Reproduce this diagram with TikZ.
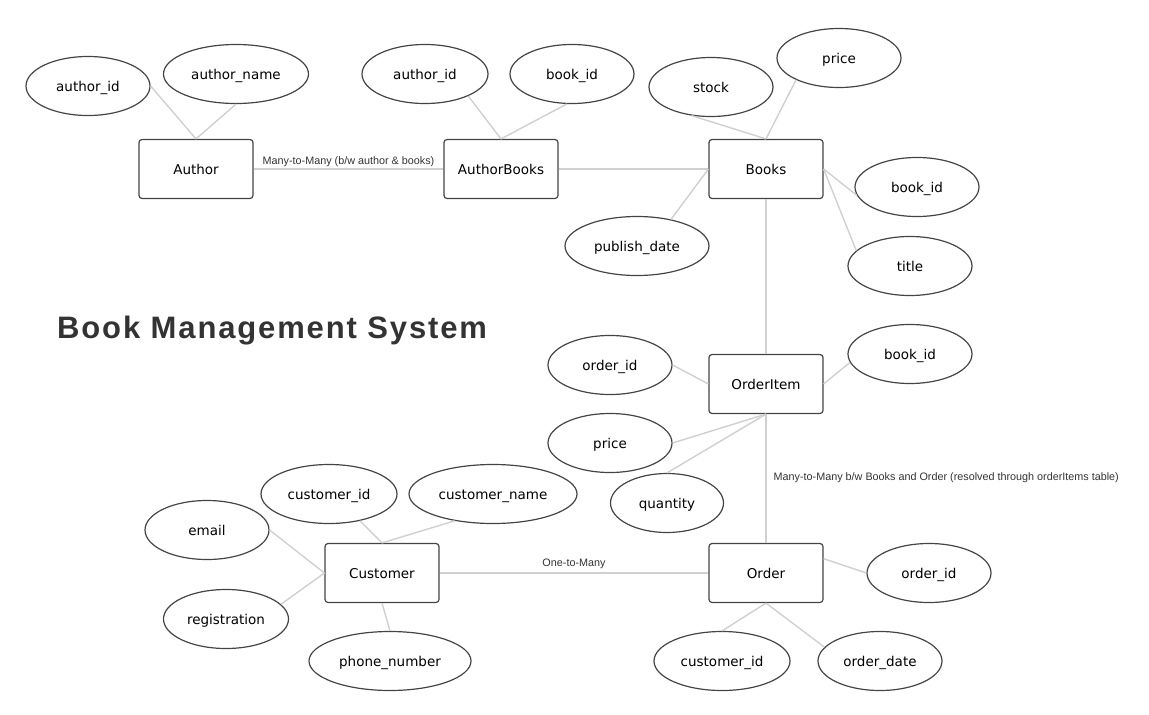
\documentclass[tikz,border=0pt]{standalone}
\usepackage{fontspec}
\setmainfont{DejaVu Sans}
\newfontfamily\titlefont[LetterSpace=6]{Liberation Sans}
\newfontfamily\relfont{Liberation Sans}
\usetikzlibrary{shapes.geometric,positioning}

\definecolor{boxgray}{HTML}{444444}
\definecolor{linkgray}{HTML}{D0D0D0}
\definecolor{titlegray}{HTML}{333333}

\tikzset{
  entity/.style={draw=boxgray, line width=1.2pt, rounded corners=3pt, minimum width=114pt, minimum height=59pt, text height=10pt, text depth=0pt, font=\fontsize{13.5}{16}\selectfont},
  attr/.style={ellipse, draw=boxgray, line width=1.2pt, minimum width=124pt, minimum height=59pt, inner sep=0pt, text height=10pt, text depth=0pt, font=\fontsize{13.5}{16}\selectfont},
  link/.style={draw=linkgray, line width=1.4pt},
  rel/.style={font=\relfont\fontsize{10.8}{12}\selectfont, text=titlegray, inner sep=2pt},
}

\begin{document}
\begin{tikzpicture}[x=1pt,y=-1pt]
  \useasboundingbox (0,0) rectangle (1149,715);

  % Define nodes
  \node[entity] (author)   at (196,169) {Author};
  \node[entity] (abooks)   at (501,169) {AuthorBooks};
  \node[entity] (books)    at (766,169) {Books};
  \node[entity] (oitem)    at (766,384) {OrderItem};
  \node[entity] (customer) at (382,573) {Customer};
  \node[entity] (order)    at (766,573) {Order};

  \node[anchor=base west, inner sep=0pt, text=titlegray, font=\titlefont\bfseries\fontsize{31}{36}\selectfont] (title) at (57,338) {Book Management System};

  % Attributes
  \node[attr] (aid)   at (88,86)  {author\_id};
  \node[attr, minimum width=145pt] (aname) at (236,74) {author\_name};
  \node[attr, minimum width=126pt] (abaid) at (425,74) {author\_id};
  \node[attr] (abbid) at (572,74) {book\_id};

  \node[attr] (bstock) at (711,87)  {stock};
  \node[attr] (bprice) at (839,58)  {price};
  \node[attr] (bbid)   at (917,187) {book\_id};
  \node[attr] (btitle) at (910,266) {title};
  \node[attr, minimum width=144pt] (bdate) at (637,246) {publish\_date};

  \node[attr] (ioid)   at (610,365) {order\_id};
  \node[attr] (ibid)   at (910,354) {book\_id};
  \node[attr] (iprice) at (610,443) {price};
  \node[attr, minimum width=113pt] (iqty) at (667,503) {quantity};

  \node[attr] (cemail) at (207,530) {email};
  \node[attr, minimum width=136pt] (cid)   at (329,494) {customer\_id};
  \node[attr, minimum width=168pt] (cname) at (493,494) {customer\_name};
  \node[attr, minimum width=125pt] (creg)  at (226,619) {registration};
  \node[attr, minimum width=162pt] (cphone) at (390,661) {phone\_number};

  \node[attr] (ooid) at (929,573) {order\_id};
  \node[attr, minimum width=136pt] (ocid) at (722,661) {customer\_id};
  \node[attr] (odate) at (880,661) {order\_date};

  % Relations
  \draw[link] (author.east) -- node[rel, above] {Many-to-Many (b/w author \& books)} (abooks.west);
  \draw[link] (abooks.east) -- (books.west);
  \draw[link] (books.south) -- (oitem.north);
  \draw[link] (oitem.south) -- node[rel, right, xshift=5pt, yshift=1pt] {Many-to-Many b/w Books and Order (resolved through orderItems table)} (order.north);
  \draw[link] (customer.east) -- node[rel, above, yshift=2pt] {One-to-Many} (order.west);

  % Attribute links
  \draw[link] (aid.east) -- (author.north);
  \draw[link] (aname.south) -- (author.north);
  \draw[link] (abaid.-27) -- (abooks.north);
  \draw[link] (abbid.-100) -- (abooks.north);
  \draw[link] (bstock.-124) -- (books.north);
  \draw[link] (bprice.-153) -- (books.north);
  \draw[link] (bdate.38) -- (books.west);
  \draw[link] (bbid.-172) -- (books.east);
  \draw[link] (btitle.164) -- (books.east);
  \draw[link] (ioid.east) -- (oitem.west);
  \draw[link] (ibid.-172) -- (oitem.east);
  \draw[link] (iprice.east) -- (oitem.south);
  \draw[link] (iqty.north) -- (oitem.south);
  \draw[link] (cid.-41) -- (customer.north);
  \draw[link] (cname.-145) -- (customer.north);
  \draw[link] (cemail.east) -- (customer.west);
  \draw[link] (creg.15) -- (customer.west);
  \draw[link] (cphone.north) -- (customer.south);
  \draw[link] (ooid.west) -- (order.14);
  \draw[link] (ocid.north) -- (order.south);
  \draw[link] (odate.166) -- (order.south);

\end{tikzpicture}
\end{document}
